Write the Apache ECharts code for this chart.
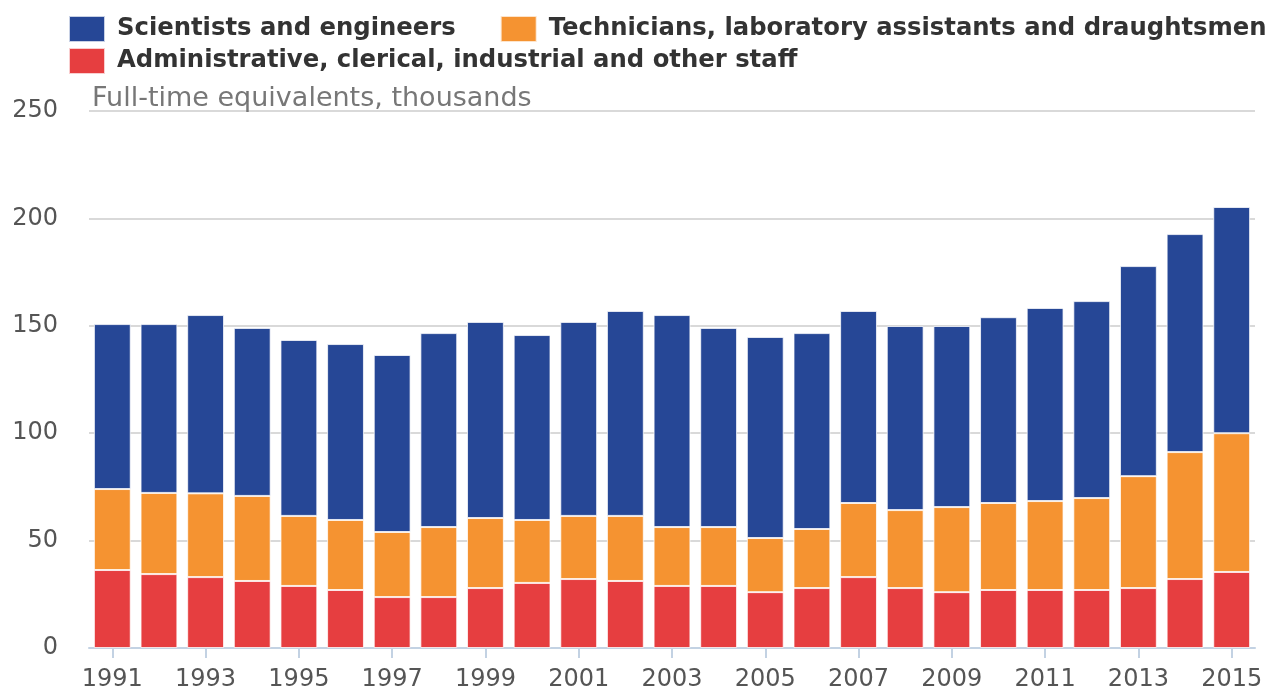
<!DOCTYPE html>
<html>
<head>
<meta charset="utf-8">
<script src="https://cdn.jsdelivr.net/npm/echarts@6/dist/echarts.min.js"></script>
<style>
  html, body { margin: 0; padding: 0; background: #fff; }
  #chart { width: 1272px; height: 690px; }
</style>
</head>
<body>
<div id="chart"></div>
<script>
// data (thousands, FTE)
const years = ['1991', '1992', '1993', '1994', '1995', '1996', '1997', '1998', '1999', '2000',
  '2001', '2002', '2003', '2004', '2005', '2006', '2007', '2008', '2009', '2010',
  '2011', '2012', '2013', '2014', '2015'];
const adminStaff = [36.3, 34.4, 33.0, 31.2, 28.9, 27.0, 23.7, 23.7, 27.9, 30.3,
  32.1, 31.2, 28.9, 28.9, 26.0, 27.9, 33.0, 27.9, 26.0, 27.0,
  27.0, 27.0, 27.9, 32.1, 35.4];
const technicians = [37.7, 37.8, 39.0, 39.6, 32.6, 32.6, 30.3, 32.6, 32.6, 29.3,
  29.4, 30.3, 27.4, 27.4, 25.2, 27.5, 34.5, 36.3, 39.6, 40.5,
  41.4, 42.8, 52.1, 59.1, 64.6];
const scientists = [76.8, 78.6, 83.0, 78.2, 81.9, 81.9, 82.4, 90.3, 91.3, 86.1,
  90.3, 95.4, 98.7, 92.7, 93.6, 91.2, 89.4, 85.7, 84.3, 86.5,
  89.9, 91.7, 97.8, 101.5, 105.3];

const names = {
  sci: 'Scientists and engineers',
  tech: 'Technicians, laboratory assistants and draughtsmen',
  admin: 'Administrative, clerical, industrial and other staff'
};

const font = 'DejaVu Sans';
const legendText = { fontFamily: font, fontWeight: 'bold', fontSize: 24.3, color: '#333', padding: [0, 0, 0, 7] };

function barSeries(name, data, color) {
  return {
    name: name,
    type: 'bar',
    stack: 'total',
    data: data,
    barWidth: '79%',
    itemStyle: { color: color, borderColor: 'rgba(255,255,255,0.75)', borderWidth: 1 },
    emphasis: { disabled: true }
  };
}

const chart = echarts.init(document.getElementById('chart'), null, { renderer: 'canvas' });

chart.setOption({
  animation: false,
  textStyle: { fontFamily: font },
  title: {
    text: 'Full-time equivalents, thousands',
    left: 87,
    top: 80,
    textStyle: { fontFamily: font, fontWeight: 'normal', fontSize: 27, color: '#777' }
  },
  legend: [{
    data: [names.sci, names.tech],
    left: 63,
    top: 10,
    itemWidth: 36,
    itemHeight: 26,
    itemGap: 44,
    icon: 'rect',
    textStyle: legendText
  }, {
    data: [names.admin],
    left: 63,
    top: 42,
    itemWidth: 36,
    itemHeight: 26,
    icon: 'rect',
    textStyle: legendText
  }],
  grid: { left: 89, right: 17, top: 111, bottom: 42, containLabel: false, outerBoundsMode: 'none' },
  xAxis: {
    type: 'category',
    data: years,
    axisLine: { lineStyle: { color: '#c3d2e3', width: 2 } },
    axisTick: { show: true, interval: 1, length: 10, lineStyle: { color: '#c3d2e3', width: 2 }, alignWithLabel: true },
    axisLabel: { interval: 1, fontSize: 24, color: '#555', margin: 20, fontFamily: font }
  },
  yAxis: {
    type: 'value',
    min: 0,
    max: 250,
    interval: 50,
    axisLine: { show: false },
    axisTick: { show: false },
    axisLabel: { fontSize: 24, color: '#555', margin: 31, fontFamily: font },
    splitLine: { lineStyle: { color: '#d9d9d9', width: 2 } }
  },
  series: [
    barSeries(names.admin, adminStaff, '#e63e40'),
    barSeries(names.tech, technicians, '#f59331'),
    barSeries(names.sci, scientists, '#264796')
  ]
});
</script>
</body>
</html>
